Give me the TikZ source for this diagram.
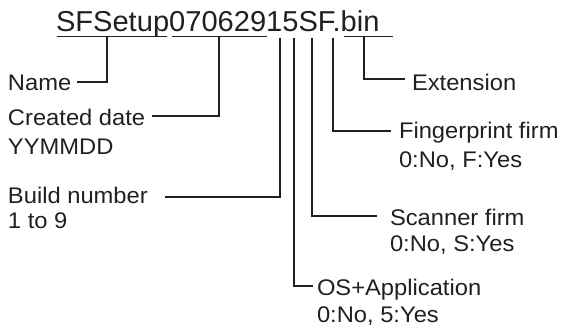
\documentclass[tikz,border=0pt]{standalone}
\usepackage{fontspec}
\setmainfont[FakeStretch=1.05]{Liberation Sans}
\newfontfamily\titlefont[FakeStretch=1.01]{Liberation Sans}
\definecolor{ink}{HTML}{231F20}
\begin{document}
\begin{tikzpicture}[x=1pt,y=-1pt,
  lbl/.style={anchor=base west,inner sep=0pt,outer sep=0pt,text=ink,font=\fontsize{22.6}{26}\selectfont},
  ttl/.style={anchor=base west,inner sep=0pt,outer sep=0pt,text=ink,font=\titlefont\fontsize{28.8}{32}\selectfont},
  conn/.style={draw=ink,line width=1.8pt},
  uline/.style={draw=ink,line width=1.5pt}]
\useasboundingbox (0,0) rectangle (573,329);
% title
\node[ttl] (title) at (56,32) {SFSetup07062915SF.bin};
% underlines
\coordinate (u1a) at (57,36.5);  \coordinate (u1b) at (167,36.5);
\coordinate (u2a) at (172,36.5); \coordinate (u2b) at (267,36.5);
\coordinate (u3a) at (344,36.5); \coordinate (u3b) at (393,36.5);
\draw[uline] (u1a) -- (u1b);
\draw[uline] (u2a) -- (u2b);
\draw[uline] (u3a) -- (u3b);
% labels
\node[lbl] (name) at (8,91) {Name};
\node[lbl] (date) at (8,125) {Created date};
\node[lbl] (date2) at (8,154) {YYMMDD};
\node[lbl] (build) at (8,203) {Build number};
\node[lbl] (build2) at (8,228) {1 to 9};
\node[lbl] (ext) at (412,90) {Extension};
\node[lbl] (fp) at (399,138) {Fingerprint firm};
\node[lbl] (fp2) at (399,167) {0:No, F:Yes};
\node[lbl] (sc) at (390,225) {Scanner firm};
\node[lbl] (sc2) at (390,251) {0:No, S:Yes};
\node[lbl] (os) at (317,295) {OS+Application};
\node[lbl] (os2) at (317,322) {0:No, 5:Yes};
% connector points
\coordinate (tName) at (107,36);  \coordinate (eName) at (77,82);
\coordinate (tDate) at (219,36);  \coordinate (eDate) at (152,116);
\coordinate (tBuild) at (280,38); \coordinate (eBuild) at (165,197);
\coordinate (tOS) at (294,38);    \coordinate (eOS) at (313,286);
\coordinate (tSc) at (312,38);    \coordinate (eSc) at (377,216);
\coordinate (tFp) at (333,38);    \coordinate (eFp) at (391,131);
\coordinate (tExt) at (364,36);   \coordinate (eExt) at (405,79);
% connectors
\draw[conn] (tName) |- (eName);
\draw[conn] (tDate) |- (eDate);
\draw[conn] (tBuild) |- (eBuild);
\draw[conn] (tOS) |- (eOS);
\draw[conn] (tSc) |- (eSc);
\draw[conn] (tFp) |- (eFp);
\draw[conn] (tExt) |- (eExt);
\end{tikzpicture}
\end{document}
